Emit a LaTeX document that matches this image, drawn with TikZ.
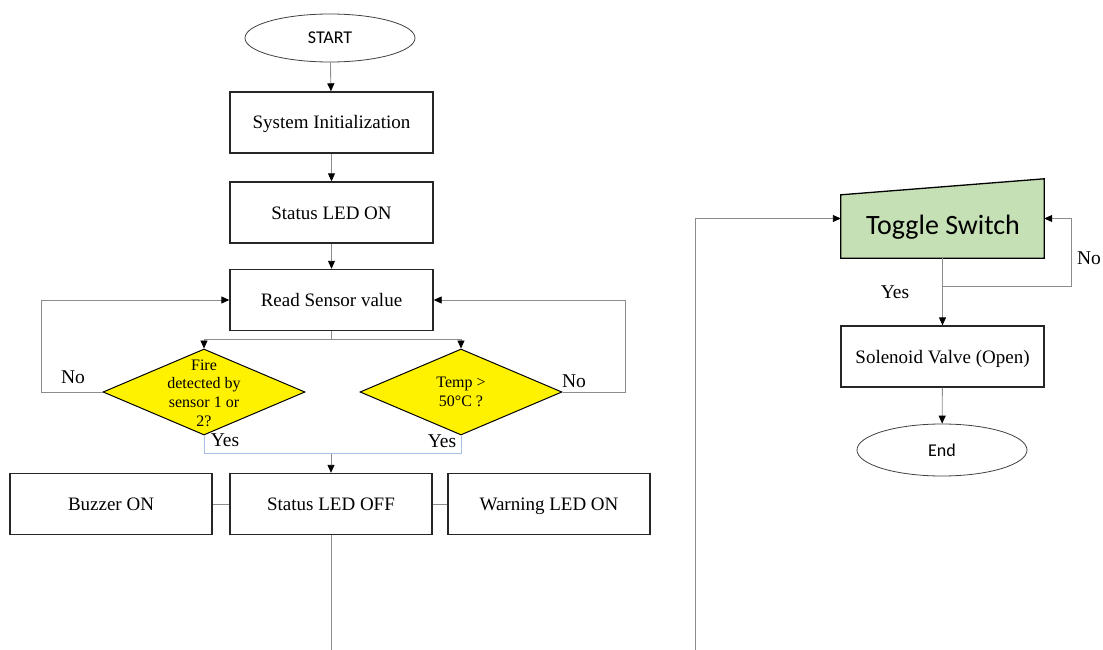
\documentclass[tikz,border=0pt]{standalone}
\usepackage{fontspec}
\setmainfont{Liberation Serif}
\newfontfamily\calib{Carlito}
\usetikzlibrary{shapes.geometric,arrows.meta,calc}
\definecolor{togfill}{HTML}{C5E0B4}
\definecolor{yesblue}{HTML}{A9C0E6}
\definecolor{lin}{HTML}{8C8C8C}
\begin{document}
\begin{tikzpicture}[x=1pt,y=-1pt,
  proc/.style={draw=black!85, line width=1.4pt, minimum width=203pt, minimum height=61pt, inner sep=0pt, text height=13pt, text depth=0pt, font=\fontsize{19}{22}\selectfont},
  term/.style={ellipse, draw=black!75, line width=0.8pt, minimum width=170pt, minimum height=48pt, inner sep=0pt, font=\calib\fontsize{18}{21}\selectfont},
  dec/.style={diamond, draw=black, fill=yellow, line width=1pt, minimum width=202pt, minimum height=86pt, inner sep=0pt},
  dtext/.style={align=center, font=\fontsize{16}{18.7}\selectfont, inner sep=0pt},
  lbl/.style={font=\fontsize{19.5}{22}\selectfont, inner sep=0pt},
  conn/.style={draw=lin, line width=0.9pt},
  arr/.style={conn, -{Triangle[length=8pt,width=7pt,color=black]}},
  yesline/.style={draw=yesblue, line width=1pt}]
\useasboundingbox (0,0) rectangle (1103,650);

% left column
\node[term] (start) at (330,38) {START};
\node[proc] (sysinit) at (331.5,122.5) {System Initialization};
\node[proc] (ledon) at (331.5,212.5) {Status LED ON};
\node[proc] (rs) at (331.5,300) {Read Sensor value};
\node[dec] (d1) at (204,392) {};
\node[dtext] (d1t) at (204,393) {Fire\\detected by\\sensor 1 or\\2?};
\node[dec] (d2) at (461,392) {};
\node[dtext] (d2t) at (461,392) {Temp >\\50°C ?};
\node[proc, minimum width=202pt] (buzzer) at (111,504) {Buzzer ON};
\node[proc, minimum width=202pt] (ledoff) at (331,504) {Status LED OFF};
\node[proc, minimum width=202pt] (warn) at (549,504) {Warning LED ON};

\draw[arr] (start) -- (sysinit);
\draw[arr] (sysinit) -- (ledon);
\draw[arr] (ledon) -- (rs);
\coordinate (split) at ($(rs.south)+(0,8)$);
\draw[conn] (rs.south) -- (split);
\draw[arr] (split) -| (d1.north);
\draw[arr] (split) -| (d2.north);
\draw[arr] (d1.west) -- ++(-61,0) |- (rs.west);
\draw[arr] (d2.east) -- ++(63,0) |- (rs.east);
\node[lbl] (no1) at (73,377) {No};
\node[lbl] (no2) at (574,381) {No};
\coordinate (join) at ($(ledoff.north)+(0,-19)$);
\draw[yesline] (d1.south) |- (join) -| (d2.south);
\draw[arr] (join) -- (ledoff.north);
\node[lbl] (yes1) at (225,440) {Yes};
\node[lbl] (yes2) at (442,441) {Yes};
\draw[conn] (buzzer) -- (ledoff);
\draw[conn] (ledoff) -- (warn);
\coordinate (leftout) at (331,650);
\draw[conn] (ledoff.south) -- (leftout);

% right column
\node[inner sep=0pt, minimum width=203pt, minimum height=79pt] (tog) at (942.5,218.5) {};
\filldraw[fill=togfill, draw=black, line width=1.3pt]
  (tog.south west) -- (tog.south east) -- (tog.north east) -- ($(tog.north west)+(0,16)$) -- cycle;
\node[font=\calib\fontsize{28}{32}\selectfont, inner sep=0pt] (togt) at (943,227) {Toggle Switch};
\node[proc, line width=1.2pt, font=\fontsize{19}{22}\selectfont] (sol) at (942.5,356.5) {Solenoid Valve (Open)};
\node[term, minimum height=52pt] (end) at (942,450) {End};

\coordinate (rightin) at (695,650);
\draw[arr] (rightin) |- (tog.west);
\draw[arr] (tog.south) -- (sol.north);
\coordinate (tb) at ($(tog.south)+(0,28)$);
\draw[arr] (tb) -- ++(129,0) |- (tog.east);
\draw[arr] (sol) -- (end);
\node[lbl] (no3) at (1089,258) {No};
\node[lbl] (yes3) at (895,292) {Yes};
\end{tikzpicture}
\end{document}
